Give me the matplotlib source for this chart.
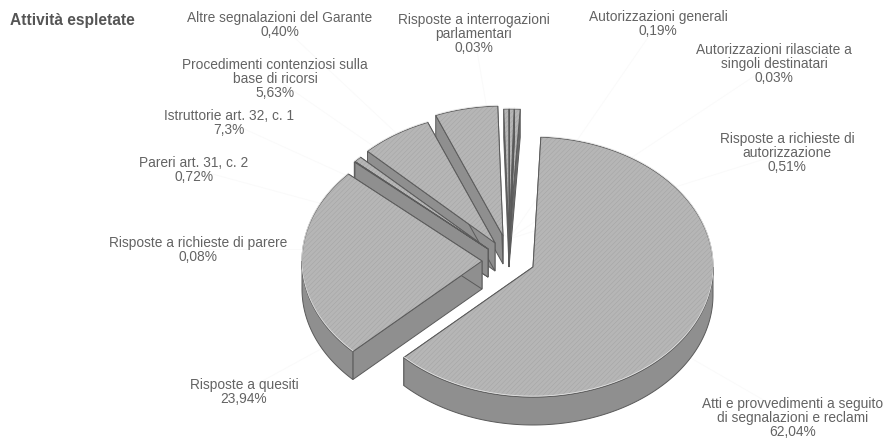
#!/usr/bin/env python3
import numpy as np
import matplotlib
matplotlib.use("Agg")
import matplotlib.pyplot as plt

plt.rcParams["font.family"] = ["Liberation Sans", "DejaVu Sans"]
plt.rcParams["hatch.linewidth"] = 0.35

# clockwise from the big slice; the printed 7,3% slice is drawn at about 6.4% in the picture
names = [
    "Atti e provvedimenti a seguito\ndi segnalazioni e reclami",
    "Risposte a quesiti",
    "Risposte a richieste di parere",
    "Pareri art. 31, c. 2",
    "Istruttorie art. 32, c. 1",
    "Procedimenti contenziosi sulla\nbase di ricorsi",
    "Altre segnalazioni del Garante",
    "Risposte a interrogazioni\nparlamentari",
    "Autorizzazioni generali",
    "Autorizzazioni rilasciate a\nsingoli destinatari",
    "Risposte a richieste di\nautorizzazione",
]
printed = ["62,04%", "23,94%", "0,08%", "0,72%", "7,3%", "5,63%",
           "0,40%", "0,03%", "0,19%", "0,03%", "0,51%"]
shares = [62.04, 23.94, 0.08, 0.72, 6.43, 5.63, 0.40, 0.03, 0.19, 0.03, 0.51]

# layout, in pixels of the 885x439 canvas
apex = [(533, 268), (482, 262), (488, 250), (488, 250), (495, 244), (503, 237),
        (509, 240), (509, 240), (509, 240), (509, 240), (509, 240)]
label_pos = [(793, 418), (244, 392), (198, 250), (194, 170), (229, 123), (275, 79),
             (280, 25), (474, 34), (658, 24), (774, 64), (787, 153)]
RX, RY, DEPTH = 180, 130, 28
START = 2.5
MIN_SWEEP = 1.6  # small slices are drawn wider than their share

TOP = "#b6b6b6"
TEXTURE = "#a4a4a4"
SIDE = "#8f8f8f"
SIDE_THIN = "#6a6a6a"
EDGE = "#5a5a5a"
TEXT = "#636363"


def rim(c, a0, a1):
    t = np.radians(np.linspace(a0, a1, max(int(abs(a1 - a0) * 2), 2)))
    return c[0] + RX * np.sin(t), c[1] - RY * np.cos(t)


def sweep_of(v):
    s = v * 3.6
    return max(s, MIN_SWEEP) if v >= 0.1 else max(s, 0.1)


def draw_slice(ax, c, a0, a1, side):
    # radial walls first, the top face hides whatever is behind it
    for a in (a0, a1):
        x, y = rim(c, a, a)
        xs = [c[0], x[0], x[0], c[0]]
        ys = [c[1], y[0], y[0] + DEPTH, c[1] + DEPTH]
        ax.fill(xs, ys, fc=side, ec=EDGE, lw=0.7, zorder=1)
    lo, hi = max(a0, 90), min(a1, 270)
    if lo < hi:
        x, y = rim(c, lo, hi)
        xs = np.r_[x, x[::-1]]
        ys = np.r_[y, y[::-1] + DEPTH]
        ax.fill(xs, ys, fc=side, ec=EDGE, lw=0.7, zorder=1)
    x, y = rim(c, a0, a1)
    xs = np.r_[c[0], x]
    ys = np.r_[c[1], y]
    ax.fill(xs, ys, fc=TOP, ec=TEXTURE, hatch="///////", lw=0, zorder=1)
    ax.fill(xs, ys, fc="none", ec=EDGE, lw=0.7, zorder=1)
    ax.plot(x, y - 0.8, color="#e4e4e4", lw=0.6, zorder=1)


fig = plt.figure(figsize=(8.85, 4.39), dpi=100)
ax = fig.add_axes([0, 0, 1, 1])
ax.set_xlim(0, 885)
ax.set_ylim(439, 0)
ax.axis("off")

# faint leader lines, barely visible in the scan
for (lx, ly), c in zip(label_pos, apex):
    ax.plot([lx, c[0]], [ly, c[1]], color="#fafafa", lw=0.7, zorder=0)

angles = []
a = START
for v in shares:
    s = sweep_of(v)
    angles.append((a, a + s))
    a += s

# back to front: thin top slices, then round to the big one
for i in range(len(shares) - 1, -1, -1):
    side = SIDE_THIN if i >= 6 else SIDE
    draw_slice(ax, apex[i], angles[i][0], angles[i][1], side)

for name, pct, (lx, ly) in zip(names, printed, label_pos):
    ax.text(lx, ly, name + "\n" + pct, ha="center", va="center", fontsize=9.9,
            color=TEXT, linespacing=1.0)

ax.text(10, 21, "Attività espletate", ha="left", va="center", fontsize=11.2,
        fontweight="bold", color="#555555")

fig.savefig("out.png", dpi=100)
